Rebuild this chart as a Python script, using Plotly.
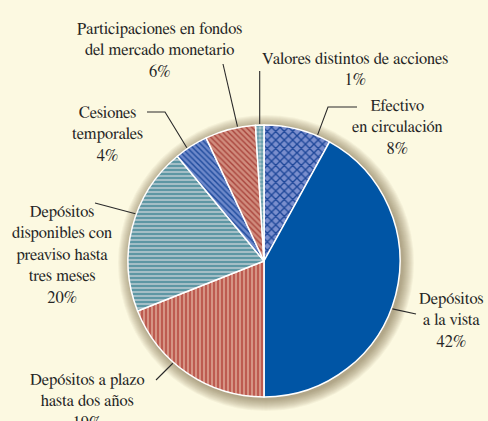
import math
import plotly.graph_objects as go

# data
labels = [
    "Efectivo en circulación",
    "Depósitos a la vista",
    "Depósitos a plazo hasta dos años",
    "Depósitos disponibles con preaviso hasta tres meses",
    "Cesiones temporales",
    "Participaciones en fondos del mercado monetario",
    "Valores distintos de acciones",
]
values = [8, 42, 19, 20, 4, 6, 1]
label_text = [
    "Efectivo<br>en circulación<br>8%",
    "Depósitos<br>a la vista<br>42%",
    "Depósitos a plazo<br>hasta dos años<br>19%",
    "Depósitos<br>disponibles con<br>preaviso hasta<br>tres meses<br>20%",
    "Cesiones<br>temporales<br>4%",
    "Participaciones en fondos<br>del mercado monetario<br>6%",
    "Valores distintos de acciones<br>1%",
]

# styles
bg_colors = ["#7A8ECD", "#0055A5", "#D59484", "#A3BEC6", "#6E89CA", "#D08C7D", "#ABC5CC"]
fg_colors = ["#1E4799", "#0055A5", "#B3423A", "#3F8695", "#1E4A9C", "#A9443C", "#3A8495"]
shapes_pat = ["x", "", "|", "-", "\\", "\\", "+"]
pat_sizes = [6, 6, 4, 4, 4, 4, 4]
pat_solid = [0.4, 0.3, 0.35, 0.35, 0.35, 0.35, 0.3]

W, H = 488, 421
CX, CY, R = 264, 261, 136
BG = "#FCF9E1"
FONT = "FreeSerif"

# label layout: centre of text block (px), fraction along slice for leader start, leader bend points (px)
label_pos = [(397, 127), (451, 320), (87, 401), (62, 255), (107, 135), (159, 51), (355, 69.5)]
leader_frac = [0.8, 0.54, 0.61, 0.58, 0.37, 0.65, 0.5]
leader_pts = [
    [(328, 107), (357, 107)],
    [(416, 314)],
    [(156, 380)],
    [(95, 203)],
    [(165, 112), (147, 112)],
    [(223, 64)],
    [(None, 71)],
]


def px(x):
    return x / W


def py(y):
    return 1 - y / H


fig = go.Figure()
fig.add_trace(go.Pie(
    labels=labels,
    values=values,
    sort=False,
    direction="clockwise",
    rotation=0,
    textinfo="none",
    hoverinfo="label+percent",
    showlegend=False,
    domain=dict(x=[px(CX - R), px(CX + R)], y=[py(CY + R), py(CY - R)]),
    marker=dict(
        colors=bg_colors,
        line=dict(color="white", width=1.5),
        pattern=dict(
            shape=shapes_pat,
            bgcolor=bg_colors,
            fgcolor=fg_colors,
            size=pat_sizes,
            solidity=pat_solid,
            fillmode="replace",
        ),
    ),
))

shapes = []
# soft shadow round the pie
for i in range(12, 0, -1):
    rr = R + i
    shapes.append(dict(
        type="circle", xref="paper", yref="paper", layer="below",
        x0=px(CX - rr + 2), x1=px(CX + rr + 2), y0=py(CY + rr + 2), y1=py(CY - rr + 2),
        fillcolor="rgba(110,100,50,0.055)", line=dict(width=0),
    ))

total = sum(values)
cum = 0
annotations = []
for v, txt, pos, frac, pts in zip(values, label_text, label_pos, leader_frac, leader_pts):
    ang = 2 * math.pi * (cum + frac * v) / total
    cum += v
    sx = CX + (R + 1) * math.sin(ang)
    sy = CY - (R + 1) * math.cos(ang)
    path = f"M {px(sx)} {py(sy)}"
    for (x, y) in pts:
        x = sx if x is None else x
        path += f" L {px(x)} {py(y)}"
    shapes.append(dict(type="path", xref="paper", yref="paper", path=path,
                       line=dict(color="#2A2A2A", width=1.1)))
    annotations.append(dict(
        x=px(pos[0]), y=py(pos[1]), xref="paper", yref="paper",
        text=txt, showarrow=False, align="center",
        xanchor="center", yanchor="middle",
        font=dict(family=FONT, size=16.5, color="#262626"),
    ))

fig.update_layout(
    width=W, height=H,
    margin=dict(l=0, r=0, t=0, b=0),
    paper_bgcolor=BG,
    plot_bgcolor=BG,
    shapes=shapes,
    annotations=annotations,
)

fig.write_html("out.html", config={"displayModeBar": False},
               post_script="document.body.style.margin='0';")
